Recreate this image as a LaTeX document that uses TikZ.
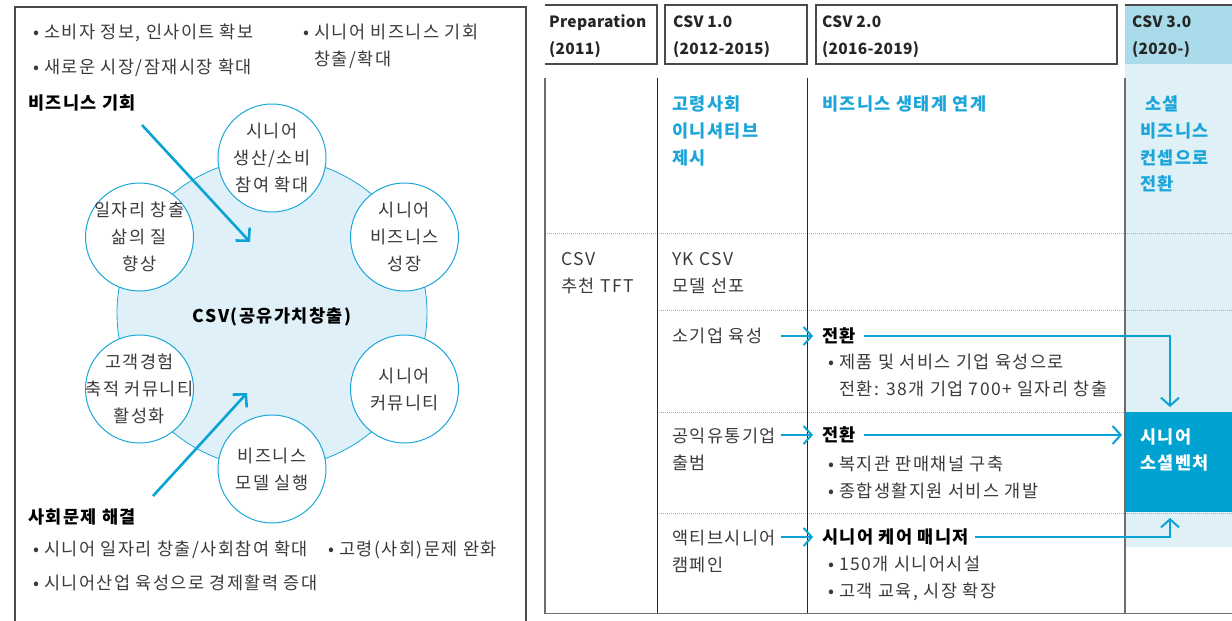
\documentclass[tikz,border=0pt]{standalone}
\usepackage{fontspec}
\setmainfont{Noto Sans CJK KR}[LetterSpace=8]
\newfontfamily\hdrfont{Noto Sans CJK KR}[LetterSpace=2]
\usetikzlibrary{arrows.meta}
\definecolor{cy}{HTML}{0AA3D4}
\definecolor{cyline}{HTML}{1AA7D8}
\definecolor{cytext}{HTML}{1BA5D8}
\definecolor{dotc}{HTML}{6CC4E3}
\definecolor{bigfill}{HTML}{DFF0F8}
\definecolor{hdrfill}{HTML}{A9DBEA}
\definecolor{colfill}{HTML}{DFF0F7}
\definecolor{darkbox}{HTML}{00A2D2}
\definecolor{txt}{HTML}{3A3A3A}
\definecolor{frame}{HTML}{4A4A4A}
\tikzset{
  body/.style={font=\fontsize{17.5}{27}\selectfont, text=txt, inner sep=0pt},
  lt/.style={body, anchor=west, align=left},
  ct/.style={font=\fontsize{17.5}{27}\selectfont, text=txt, inner sep=0pt, align=center},
  bl/.style={font=\fontsize{17.5}{27}\selectfont\bfseries, text=black, inner sep=0pt, anchor=west},
  cyt/.style={font=\fontsize{17.5}{26.8}\selectfont\bfseries, text=cytext, inner sep=0pt, anchor=west, align=left},
  hdr/.style={font=\hdrfont\fontsize{15.5}{27}\selectfont\bfseries, text=black!85, inner sep=0pt, anchor=west, align=left},
  smallc/.style={circle, draw=cyline, line width=1pt, fill=white, minimum size=108pt, inner sep=0pt},
  bigarrow/.style={draw=cy, line width=2.6pt, -{Straight Barb[length=9pt,width=19pt]}},
  flow/.style={draw=cy, line width=2pt, -{Straight Barb[length=8pt,width=18pt]}},
  dotl/.style={draw=dotc, line width=0.8pt, dash pattern=on 1pt off 1pt},
  hbox/.style={draw=frame, line width=1.4pt},
  thinv/.style={draw=black!85, line width=1pt},
  grayv/.style={draw=frame!80, line width=1.8pt}
}
\begin{document}
\begin{tikzpicture}[x=1pt,y=-1pt]
\useasboundingbox (0,0) rectangle (1232,621);
% ---------- left panel ----------
\draw[hbox] (15,640) -- (15,7) -- (526,7) -- (526,640);
\node[lt] (b1) at (33,33) {• 소비자 정보, 인사이트 확보};
\node[lt] (b2) at (33,68) {• 새로운 시장/잠재시장 확대};
\node[lt] (b3) at (303,46.5) {• 시니어 비즈니스 기회\\\hphantom{• }창출/확대};
\node[bl] (opp) at (28,103) {비즈니스 기회};
\node[circle, draw=cyline, line width=0.8pt, fill=bigfill, minimum size=310pt, inner sep=0pt] (csv) at (272,313) {};
\node[bl, anchor=center] (csvl) at (272,317) {CSV(공유가치창출)};
\node[smallc] (c1) at (272,158) {};
\node[ct] at (c1) {시니어\\생산/소비\\참여 확대};
\node[smallc] (c2) at (404.5,237) {};
\node[ct] at (c2) {시니어\\비즈니스\\성장};
\node[smallc] (c3) at (404.5,389) {};
\node[ct] at (c3) {시니어\\커뮤니티};
\node[smallc] (c4) at (272,469) {};
\node[ct] at (c4) {비즈니스\\모델 실행};
\node[smallc] (c5) at (139.5,389) {};
\node[ct] at (c5) {고객경험\\축적 커뮤니티\\활성화};
\node[smallc] (c6) at (139.5,237) {};
\node[ct] at (c6) {일자리 창출\\삶의 질\\향상};
\coordinate (a1s) at (142,125);
\coordinate (a1e) at (250,242);
\draw[bigarrow] (a1s) -- (a1e);
\coordinate (a2s) at (153,496);
\coordinate (a2e) at (247,393);
\draw[bigarrow] (a2s) -- (a2e);
\node[bl] (soc) at (28,517) {사회문제 해결};
\node[lt] (d1) at (33,550) {• 시니어 일자리 창출/사회참여 확대};
\node[lt] (d2) at (328,550) {• 고령(사회)문제 완화};
\node[lt] (d3) at (33,583) {• 시니어산업 육성으로 경제활력 증대};
% ---------- right panel ----------
\fill[colfill] (1125,64) rectangle (1232,547);
\fill[hdrfill] (1125,5) rectangle (1232,64);
\draw[hbox] (1125,5) -- (1232,5);
\draw[hbox] (545,5) -- (657,5) -- (657,64) -- (545,64);
\draw[hbox] (665,5) rectangle (807,64);
\draw[hbox] (816,5) rectangle (1117,64);
\node[hdr] (h0) at (549,36.5) {Preparation\\(2011)};
\node[hdr] (h1) at (673,36.5) {CSV 1.0\\(2012-2015)};
\node[hdr] (h2) at (822,36.5) {CSV 2.0\\(2016-2019)};
\node[hdr] (h3) at (1132,36.5) {CSV 3.0\\(2020-)};
% dotted rows
\draw[dotl] (545,233) -- (1232,233);
\draw[dotl] (657,310) -- (1232,310);
\draw[dotl] (657,412) -- (1125,412);
\draw[dotl] (657,513) -- (1232,513);
% dark box
\node[fill=darkbox, minimum width=107pt, minimum height=100pt, inner sep=0pt, anchor=north west] (vent) at (1125,412) {};
\node[font=\fontsize{17.5}{26.5}\selectfont\bfseries, text=white, inner sep=0pt, anchor=west, align=left] (ventl) at (1140,450) {시니어\\소셜벤처};
% vertical lines
\draw[grayv] (545,78) -- (545,613);
\draw[thinv] (657,78) -- (657,613);
\draw[thinv] (807,78) -- (807,613);
\draw[grayv] (1125,78) -- (1125,613);
\draw[grayv] (544,613.5) -- (1232,613.5);
% row 1
\node[cyt] (r1a) at (672,131) {고령사회\\이니셔티브\\제시};
\node[cyt] (r1b) at (822,104) {비즈니스 생태계 연계};
\node[cyt] (r1c) at (1140,144) {\hspace*{5pt}소셜\\비즈니스\\컨셉으로\\전환};
% row 2
\node[lt] (r2a) at (561,273.5) {CSV\\추천 TFT};
\node[lt] (r2b) at (672,273.5) {YK CSV\\모델 선포};
% row 3
\node[lt] (r3a) at (672,336) {소기업 육성};
\node[bl] (r3b) at (822,336) {전환};
\node[lt] (r3c) at (828,375.5) {• 제품 및 서비스 기업 육성으로\\\hphantom{• }전환: 38개 기업 700+ 일자리 창출};
\coordinate (s3) at (781,336);
\coordinate (e3) at (813,336);
\draw[flow] (s3) -- (e3);
\coordinate (v3) at (1170,407);
\draw[flow] ([xshift=8pt]r3b.east) -| (v3);
% row 4
\node[lt] (r4a) at (672,449) {공익유통기업\\출범};
\node[bl] (r4b) at (822,435) {전환};
\node[lt] (r4c) at (828,477) {• 복지관 판매채널 구축\\• 종합생활지원 서비스 개발};
\coordinate (s4) at (781,435);
\coordinate (e4) at (813,435);
\draw[flow] (s4) -- (e4);
\draw[flow, shorten >=3pt] ([xshift=8pt]r4b.east) -- (r4b.east -| vent.west);
% row 5
\node[lt] (r5a) at (672,551) {액티브시니어\\캠페인};
\node[bl] (r5b) at (822,537) {시니어 케어 매니저};
\node[lt] (r5c) at (828,578.5) {• 150개 시니어시설\\• 고객 교육, 시장 확장};
\coordinate (s5) at (781,537);
\coordinate (e5) at (813,537);
\draw[flow] (s5) -- (e5);
\coordinate (v5) at (1170,518);
\draw[flow] ([xshift=6pt]r5b.east) -| (v5);
\end{tikzpicture}
\end{document}
